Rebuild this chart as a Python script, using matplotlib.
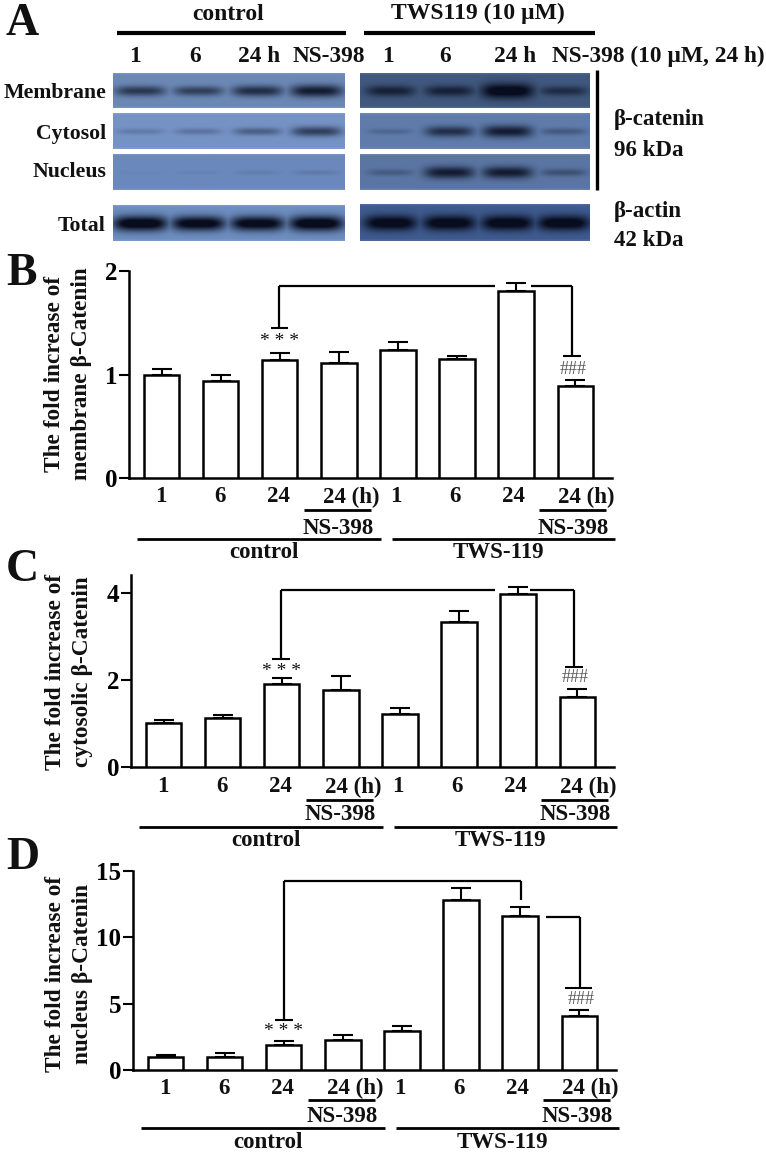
import numpy as np
import matplotlib
matplotlib.use("Agg")
import matplotlib.pyplot as plt

W, H = 766, 1154
SERIF = ['Liberation Serif', 'DejaVu Serif']
plt.rcParams['font.family'] = SERIF

# ---- data ----
time_labels = ['1', '6', '24', '24 (h)', '1', '6', '24', '24 (h)']

membrane_mean = [1.00, 0.94, 1.14, 1.11, 1.24, 1.15, 1.81, 0.89]
membrane_err = [0.05, 0.06, 0.07, 0.11, 0.07, 0.03, 0.07, 0.06]
cytosol_mean = [1.00, 1.12, 1.90, 1.78, 1.22, 3.32, 3.97, 1.60]
cytosol_err = [0.07, 0.08, 0.15, 0.32, 0.13, 0.26, 0.16, 0.20]
nucleus_mean = [1.00, 1.00, 1.90, 2.25, 2.95, 12.80, 11.60, 4.05]
nucleus_err = [0.13, 0.30, 0.30, 0.40, 0.35, 0.90, 0.70, 0.45]

# relative band strength per lane (control 4 lanes, TWS119 4 lanes)
blot_rows = ['Membrane', 'Cytosol', 'Nucleus', 'Total']
blot_left = [[0.55, 0.50, 0.62, 0.74], [0.16, 0.20, 0.32, 0.52],
             [0.03, 0.04, 0.07, 0.10], [1.0, 0.95, 0.95, 1.0]]
blot_right = [[0.62, 0.62, 1.0, 0.50], [0.16, 0.58, 0.72, 0.26],
              [0.22, 0.72, 0.72, 0.30], [1.0, 1.0, 1.0, 1.0]]


def pax(x0, y0, x1, y1, **kw):
    """axes from pixel box (y measured from top)."""
    return fig.add_axes([x0 / W, 1 - y1 / H, (x1 - x0) / W, (y1 - y0) / H], **kw)


fig = plt.figure(figsize=(W / 100, H / 100), dpi=100, facecolor='white')
ov = pax(0, 0, W, H)
ov.set_xlim(0, W)
ov.set_ylim(H, 0)
ov.axis('off')
ov.set_zorder(5)


def hl(x0, x1, y, lw=2.0):
    ov.plot([x0, x1], [y, y], color='black', lw=lw, solid_capstyle='butt')


def vl(x, y0, y1, lw=1.6):
    ov.plot([x, x], [y0, y1], color='black', lw=lw, solid_capstyle='butt')


def txt(x, y, s, size=15, ha='center', bold=True, **kw):
    ov.text(x, y, s, fontsize=size, ha=ha, va='center',
            fontweight='bold' if bold else 'normal', color='#111111', **kw)


# ---- panel A: blots ----
def blot(box, strengths, bg, centers, bw, bh):
    x0, y0, x1, y1 = box
    nx, ny = int(x1 - x0), int(y1 - y0)
    xx, yy = np.meshgrid(np.arange(nx) + x0, np.arange(ny))
    dark = np.zeros_like(xx, dtype=float)
    for c, s in zip(centers, strengths):
        h = bh * (0.25 + 0.7 * s)
        d = ((xx - c) / (bw * (0.9 + 0.2 * s))) ** 4 + ((yy - ny * 0.5) / h) ** 2
        dark = np.maximum(dark, s * np.exp(-d))
    bg = np.array(matplotlib.colors.to_rgb(bg))
    ink = np.array([0.03, 0.05, 0.12])
    a = np.clip(dark * 1.2, 0, 1)[..., None]
    img = bg * (1 - a) + ink * a
    edge = np.minimum(np.minimum(yy, ny - 1 - yy), 2)[..., None] / 2
    img = img * (0.92 + 0.08 * edge) + (1 - edge) * 0.08
    ax = pax(x0, y0, x1, y1)
    ax.imshow(np.clip(img, 0, 1), aspect='auto', interpolation='bilinear')
    ax.axis('off')


rows_y = [(73, 108), (113, 149), (154, 190), (205, 241)]
rows_y_r = [(73, 108), (113, 149), (154, 190), (204, 241)]
left_bg = ['#6c89b6', '#7693c6', '#6b89bd', '#6f8fc2']
right_bg = ['#41597f', '#5f7cab', '#5b76a3', '#3f5c90']
left_c = [140, 198, 257, 316]
right_c = [390, 449, 507, 563]
for i in range(4):
    blot((113, rows_y[i][0], 345, rows_y[i][1]), blot_left[i], left_bg[i], left_c, 25, 8)
    blot((360, rows_y_r[i][0], 590, rows_y_r[i][1]), blot_right[i], right_bg[i], right_c, 24, 8)

txt(5, 24, 'A', size=33, ha='left')
txt(228, 14, 'control', size=17)
txt(478, 13, 'TWS119 (10 µM)', size=17)
hl(117, 346, 33, lw=3.0)
hl(364, 595, 33, lw=3.0)
for x, s in zip([135, 195, 259, 329, 388, 445, 515], ['1', '6', '24 h', 'NS-398', '1', '6', '24 h']):
    txt(x, 56, s, size=16.8)
txt(552, 56, 'NS-398 (10 µM, 24 h)', size=16.8, ha='left')
for name, y in zip(blot_rows, [93, 134, 172, 226]):
    txt(106, y, name, size=15.7, ha='right')
vl(597, 70, 190, lw=2.4)
txt(614, 120, 'β-catenin', size=16.5, ha='left')
txt(614, 150, '96 kDa', size=16.5, ha='left')
txt(614, 212, 'β-actin', size=16.5, ha='left')
txt(614, 241, '42 kDa', size=16.5, ha='left')


# ---- panels B, C, D: bars ----
def bars(box, means, errs, yticks, ylim, ylabel, ylab_x, ylab_y):
    ax = pax(*box)
    x = np.arange(len(means))
    ax.bar(x, means, width=0.6, facecolor='white', edgecolor='black', linewidth=1.8, zorder=3)
    ax.errorbar(x, means, yerr=[np.zeros(len(errs)), errs], fmt='none', ecolor='black',
                elinewidth=1.5, capsize=7, capthick=1.5, zorder=2)
    ax.set_xlim(-0.55, 7.62)
    ax.set_ylim(*ylim)
    ax.set_xticks([])
    ax.set_yticks(yticks)
    ax.tick_params(axis='y', length=7, width=1.5, labelsize=18, pad=1.5)
    for t in ax.get_yticklabels():
        t.set_fontweight('bold')
    for s in ('top', 'right'):
        ax.spines[s].set_visible(False)
    ax.spines['left'].set_linewidth(1.8)
    ax.spines['bottom'].set_linewidth(1.8)
    ax.patch.set_alpha(0)
    txt(ylab_x, ylab_y, ylabel, size=16.8, rotation=90, linespacing=1.35, multialignment='center')
    return ax


def xlabels(ticks, y, d0):
    """time labels, NS-398 sub-bars and group lines under a panel."""
    for i, (c, s) in enumerate(zip(ticks, time_labels)):
        if s.endswith('(h)'):
            txt(c + 14, y, s, size=16.5)
        else:
            txt(c, y, s, size=16.5)
    for c in (ticks[3], ticks[7]):
        hl(c - 33, c + 34, y + d0[0], lw=2.0)
        txt(c + 1, y + d0[1], 'NS-398', size=16.5)
    hl(ticks[0] - 24, ticks[3] + 44, y + d0[2], lw=2.0)
    hl(ticks[4] - 4, ticks[7] + 43, y + d0[2], lw=2.0)
    txt(ticks[1] + 44, y + d0[3], 'control', size=16.5)
    txt(ticks[5] + 44, y + d0[3], 'TWS-119', size=16.5)


def centers(left, step=58.7):
    return [left + step * i for i in range(8)]


# B
bars((129, 271, 612, 478), membrane_mean, membrane_err, [0, 1, 2], (0, 2),
     'The fold increase of\nmembrane β-Catenin', 68, 374)
txt(6, 274, 'B', size=33, ha='left')
tb = centers(161)
xlabels(tb, 497, (13, 31, 42, 56))
hl(279, 495, 286, lw=1.6); hl(531, 572, 286, lw=1.6)
vl(279, 286, 328); hl(271, 288, 328, lw=1.5)
vl(572, 286, 356); hl(563, 581, 356, lw=1.5)
txt(279, 341, '* * *', size=14, bold=False)
txt(573, 369, '###', size=13, bold=False, alpha=0.7)

# C
bars((131, 575, 614, 767), cytosol_mean, cytosol_err, [0, 2, 4], (0, 4.41),
     'The fold increase of\ncytosolic β-Catenin', 69, 672)
txt(6, 570, 'C', size=33, ha='left')
tc = centers(163)
xlabels(tc, 787, (13, 28, 40, 54))
hl(281, 495, 590, lw=1.6); hl(530, 574, 590, lw=1.6)
vl(281, 590, 659); hl(272, 290, 659, lw=1.5)
vl(574, 590, 667); hl(565, 583, 667, lw=1.5)
txt(281, 671, '* * *', size=14, bold=False)
txt(575, 678, '###', size=13, bold=False, alpha=0.7)

# D
bars((133, 871, 616, 1070), nucleus_mean, nucleus_err, [0, 5, 10, 15], (0, 15),
     'The fold increase of\nnucleus β-Catenin', 69, 974)
txt(6, 858, 'D', size=33, ha='left')
td = centers(165)
xlabels(td, 1088, (12, 28, 40, 54))
hl(284, 521, 881, lw=1.6)
vl(284, 881, 1020); hl(275, 293, 1020, lw=1.5)
vl(521, 881, 900)
hl(546, 580, 917, lw=1.6)
vl(580, 917, 988); hl(565, 592, 988, lw=1.5)
txt(284, 1032, '* * *', size=14, bold=False)
txt(581, 1000, '###', size=13, bold=False, alpha=0.7)

fig.savefig('out.png', dpi=100, facecolor='white')
